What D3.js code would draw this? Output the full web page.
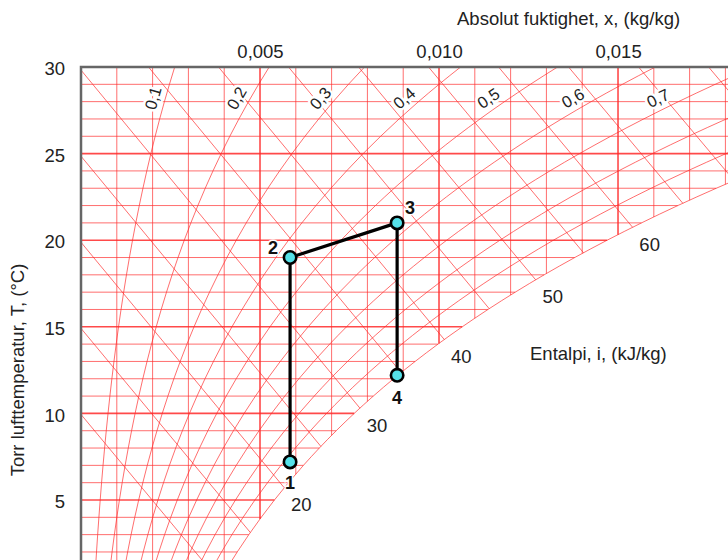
<!DOCTYPE html>
<html>
<head>
<meta charset="utf-8">
<script src="https://cdn.jsdelivr.net/npm/d3@7"></script>
<style>
  html, body { margin: 0; padding: 0; background: #fff; }
  svg { display: block; font-family: "Liberation Sans", Arial, sans-serif; }
</style>
</head>
<body>
<svg id="chart" width="728" height="560"></svg>
<script>
// Saturation vapour pressure of water (kPa) at whole degrees 0..31 °C
const tableTemps = [0, 1, 2, 3, 4, 5, 6, 7, 8, 9, 10, 11, 12, 13, 14, 15,
                    16, 17, 18, 19, 20, 21, 22, 23, 24, 25, 26, 27, 28, 29, 30, 31];
const satPressure = [0.6112, 0.6571, 0.7060, 0.7580, 0.8135, 0.8725, 0.9353, 1.0020,
                     1.0729, 1.1481, 1.2280, 1.3128, 1.4026, 1.4979, 1.5987, 1.7055,
                     1.8185, 1.9380, 2.0643, 2.1979, 2.3389, 2.4878, 2.6448, 2.8105,
                     2.9852, 3.1693, 3.3633, 3.5674, 3.7823, 4.0084, 4.2462, 4.4961];

// Relative humidity curves (1.0 is the saturation line)
const rhLevels = [0.1, 0.2, 0.3, 0.4, 0.5, 0.6, 0.7, 0.8, 0.9, 1.0];
const rhLabelLevels = [0.1, 0.2, 0.3, 0.4, 0.5, 0.6, 0.7];
const rhLabelTemp = 28.2;

// Enthalpy lines (kJ/kg)
const enthalpyLevels = [10, 15, 20, 25, 30, 35, 40, 45, 50, 55, 60, 65, 70, 75];
const enthalpyLabelLevels = [20, 30, 40, 50, 60];

// Grid lines and axis ticks
const tempGrid = [1, 2, 3, 4, 5, 6, 7, 8, 9, 10, 11, 12, 13, 14, 15, 16, 17, 18, 19, 20,
                  21, 22, 23, 24, 25, 26, 27, 28, 29];
const tempTicks = [5, 10, 15, 20, 25, 30];
const humidityGrid = [0.001, 0.002, 0.003, 0.004, 0.005, 0.006, 0.007, 0.008, 0.009,
                      0.010, 0.011, 0.012, 0.013, 0.014, 0.015, 0.016, 0.017, 0.018];
const humidityTicks = [0.005, 0.010, 0.015];

// Air treatment process states
const stateNames = ["1", "2", "3", "4"];
const stateX = [0.00584, 0.00584, 0.00883, 0.00883];
const stateT = [7.2, 19.0, 21.0, 12.2];

const P_ATM = 101.325;

// ---------- psychrometric helpers ----------
function psAt(T) {
  const i = Math.max(0, Math.min(tableTemps.length - 2, Math.floor(T)));
  const f = T - tableTemps[i];
  return satPressure[i] + f * (satPressure[i + 1] - satPressure[i]);
}
function humidity(phi, T) {
  const pv = phi * psAt(T);
  return 0.622 * pv / (P_ATM - pv);
}
function enthalpy(T, x) { return 1.006 * T + x * (2501 + 1.86 * T); }

const satX = tableTemps.map(t => humidity(1, t));
const satH = tableTemps.map((t, k) => enthalpy(t, satX[k]));

function satTempFrom(arr, v) {
  if (v <= arr[0]) return tableTemps[0];
  for (let k = 0; k < arr.length - 1; k++) {
    if (v >= arr[k] && v <= arr[k + 1]) {
      return tableTemps[k] + (v - arr[k]) / (arr[k + 1] - arr[k]);
    }
  }
  return tableTemps[tableTemps.length - 1];
}

// ---------- layout ----------
const svg = d3.select("#chart");
const x = d3.scaleLinear().domain([0, 0.0181]).range([81, 729]);
const y = d3.scaleLinear().domain([0, 30]).range([586.6, 67]);

svg.append("defs").append("clipPath").attr("id", "plot")
  .append("rect").attr("x", 81).attr("y", 67).attr("width", 647).attr("height", 493);

const grid = svg.append("g").attr("clip-path", "url(#plot)")
  .attr("fill", "none").attr("stroke", "#ff2a2a");

const thin = sel => sel.attr("stroke-width", 1).attr("stroke-opacity", 0.68);
const thick = sel => sel.attr("stroke-width", 1.6).attr("stroke-opacity", 0.85);

// horizontal temperature lines, ending at saturation
grid.selectAll("line.t").data(tempGrid).join("line")
  .attr("class", "t")
  .attr("x1", x(0)).attr("x2", t => x(humidity(1, t)))
  .attr("y1", t => y(t)).attr("y2", t => y(t))
  .each(function (t) { (t % 5 === 0 ? thick : thin)(d3.select(this)); });

// vertical humidity lines, from the top down to saturation
grid.selectAll("line.x").data(humidityGrid).join("line")
  .attr("class", "x")
  .attr("x1", v => x(v)).attr("x2", v => x(v))
  .attr("y1", y(30)).attr("y2", v => y(satTempFrom(satX, v)))
  .each(function (v) {
    (Math.abs(Math.round(v * 1000) % 5) === 0 ? thick : thin)(d3.select(this));
  });

// constant enthalpy lines
function enthalpyEnds(h) {
  let t0 = h / 1.006, x0 = 0;
  if (t0 > 30) { t0 = 30; x0 = (h - 1.006 * 30) / (2501 + 1.86 * 30); }
  const t1 = satTempFrom(satH, h);
  return { t0, x0, t1, x1: humidity(1, t1) };
}
grid.selectAll("line.h").data(enthalpyLevels).join("line")
  .attr("class", "h")
  .each(function (h) {
    const e = enthalpyEnds(h);
    d3.select(this)
      .attr("x1", x(e.x0)).attr("y1", y(e.t0))
      .attr("x2", x(e.x1)).attr("y2", y(e.t1));
    thin(d3.select(this));
  });

// relative humidity curves
const rhLine = d3.line().curve(d3.curveCatmullRom)
  .x(d => x(d[0])).y(d => y(d[1]));
grid.selectAll("path.rh").data(rhLevels).join("path")
  .attr("class", "rh")
  .attr("d", phi => rhLine(tableTemps.map(t => [humidity(phi, t), t])))
  .call(thin);

// relative humidity labels, rotated along their curve
const rhLabels = svg.append("g")
  .attr("font-size", 16.5).attr("fill", "#222")
  .attr("stroke", "#fff").attr("stroke-width", 5).attr("paint-order", "stroke")
  .attr("stroke-linejoin", "round");
rhLabels.selectAll("text").data(rhLabelLevels).join("text")
  .attr("text-anchor", "middle").attr("dy", "0.35em")
  .attr("transform", phi => {
    const px = x(humidity(phi, rhLabelTemp)), py = y(rhLabelTemp);
    const dx = x(humidity(phi, rhLabelTemp + 0.5)) - x(humidity(phi, rhLabelTemp - 0.5));
    const dy = y(rhLabelTemp - 0.5) - y(rhLabelTemp + 0.5);
    const ang = Math.atan2(dy, dx);
    const cx = px - 12 / Math.sin(ang);
    return `translate(${cx},${py}) rotate(${-ang * 180 / Math.PI})`;
  })
  .text(phi => String(phi).replace(".", ","));

// enthalpy labels beyond the saturation line
svg.append("g").attr("font-size", 18.5).attr("fill", "#222")
  .selectAll("text").data(enthalpyLabelLevels).join("text")
  .attr("text-anchor", "middle").attr("dy", "0.35em")
  .attr("x", h => { const e = enthalpyEnds(h); return x(e.x1) + 17; })
  .attr("y", h => { const e = enthalpyEnds(h); return y(e.t1) + 17; })
  .text(h => h);

// axes
const fmtX = d => d3.format(".3f")(d).replace(".", ",");
const topAxis = svg.append("g").attr("transform", `translate(0,${y(30)})`)
  .call(d3.axisTop(x).tickValues(humidityTicks).tickSize(0).tickPadding(9).tickFormat(fmtX));
const leftAxis = svg.append("g").attr("transform", `translate(${x(0)},0)`)
  .call(d3.axisLeft(y).tickValues(tempTicks).tickSize(0).tickPadding(16));
[topAxis, leftAxis].forEach(a => {
  a.select(".domain").remove();
  a.selectAll("text").attr("font-size", 18.5).attr("fill", "#222")
    .attr("font-family", "Liberation Sans, Arial, sans-serif");
});
leftAxis.selectAll("text").attr("dy", "0.42em");

// chart frame (top and left edges)
svg.append("path")
  .attr("d", `M${x(0)},560 V${y(30)} H728`)
  .attr("fill", "none").attr("stroke", "#666").attr("stroke-width", 2.5);

// titles
svg.append("text").attr("x", 457).attr("y", 25).attr("font-size", 18.5).attr("fill", "#222")
  .text("Absolut fuktighet, x, (kg/kg)");
svg.append("text").attr("transform", "translate(24,370) rotate(-90)")
  .attr("text-anchor", "middle").attr("font-size", 18.5).attr("fill", "#222")
  .text("Torr lufttemperatur, T, (°C)");
svg.append("text").attr("x", 530).attr("y", 360).attr("font-size", 18.5).attr("fill", "#222")
  .text("Entalpi, i, (kJ/kg)");

// process path 1 → 2 → 3 → 4
const states = stateNames.map((n, k) => ({ name: n, x: stateX[k], t: stateT[k] }));
svg.append("path")
  .attr("d", d3.line().x(d => x(d.x)).y(d => y(d.t))(states))
  .attr("fill", "none").attr("stroke", "#000").attr("stroke-width", 3.2)
  .attr("stroke-linejoin", "round");
svg.selectAll("circle.state").data(states).join("circle")
  .attr("class", "state")
  .attr("cx", d => x(d.x)).attr("cy", d => y(d.t)).attr("r", 6.2)
  .attr("fill", "#55e0e8").attr("stroke", "#000").attr("stroke-width", 2.6);

const stateLabelOffset = { "1": [0, 21], "2": [-17, -10], "3": [13, -15], "4": [0, 22] };
svg.selectAll("text.state").data(states).join("text")
  .attr("class", "state")
  .attr("x", d => x(d.x) + stateLabelOffset[d.name][0])
  .attr("y", d => y(d.t) + stateLabelOffset[d.name][1])
  .attr("dy", "0.35em").attr("text-anchor", "middle")
  .attr("font-size", 18).attr("font-weight", "bold").attr("fill", "#111")
  .attr("stroke", "#fff").attr("stroke-width", 3).attr("paint-order", "stroke")
  .text(d => d.name);
</script>
</body>
</html>
